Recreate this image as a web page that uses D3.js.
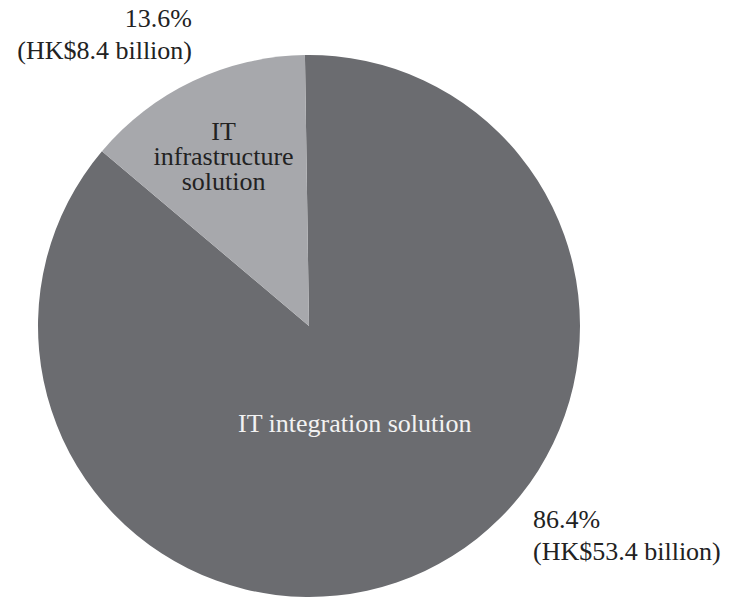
<!DOCTYPE html>
<html>
<head>
<meta charset="utf-8">
<script src="https://cdn.jsdelivr.net/npm/d3@7"></script>
<style>
  body { margin: 0; background: #fff; }
  text { font-family: "Liberation Serif", "Times New Roman", serif; font-size: 26px; }
</style>
</head>
<body>
<div id="canvas"></div>
<script>
// segment data (share of revenue, %)
var categories = ['IT integration solution', 'IT infrastructure solution'];
var shares = [86.4, 13.6];
var amounts = ['HK$53.4 billion', 'HK$8.4 billion'];
var colors = ['#6b6c70', '#a7a8ac'];

var width = 729, height = 599;
var cx = 309, cy = 326, r = 271;
var offset = -0.015; // pie is rotated a hair counter-clockwise

var svg = d3.select('#canvas').append('svg')
  .attr('width', width)
  .attr('height', height);

var g = svg.append('g').attr('transform', 'translate(' + cx + ',' + cy + ')');

var pie = d3.pie().sort(null)
  .startAngle(offset)
  .endAngle(2 * Math.PI + offset);

var arcs = pie(shares);
var arc = d3.arc().innerRadius(0).outerRadius(r);

g.selectAll('path.slice').data(arcs).enter()
  .append('path').attr('class', 'slice')
  .attr('d', arc)
  .attr('fill', function(d, i){ return colors[i]; });

// labels inside the slices
var labelRadius = [107, 188];
var labelLines = [[categories[0]], ['IT', 'infrastructure', 'solution']];
var labelFill = ['#f2f2f2', '#222'];

arcs.forEach(function(d, i) {
  var c = d3.arc().innerRadius(labelRadius[i]).outerRadius(labelRadius[i]).centroid(d);
  var lines = labelLines[i];
  var t = g.append('text')
    .attr('text-anchor', 'middle')
    .attr('fill', labelFill[i])
    .attr('x', c[0] - (i == 1 ? 5 : 0))
    .attr('y', c[1]);
  lines.forEach(function(l, k) {
    t.append('tspan')
      .attr('x', c[0] - (i == 1 ? 5 : 0))
      .attr('dy', k == 0 ? (0.35 - (lines.length - 1) * 0.48) + 'em' : '0.96em')
      .text(l);
  });
});

// outside value labels
var outside = [
  {x: 533, y: 528, anchor: 'start'},
  {x: 192, y: 27, anchor: 'end'}
];

outside.forEach(function(o, i) {
  svg.append('text')
    .attr('x', o.x).attr('y', o.y)
    .attr('text-anchor', o.anchor)
    .attr('fill', '#222')
    .text(shares[i].toFixed(1) + '%');
  svg.append('text')
    .attr('x', o.x).attr('y', o.y + 32)
    .attr('text-anchor', o.anchor)
    .attr('fill', '#222')
    .text('(' + amounts[i] + ')');
});
</script>
</body>
</html>
